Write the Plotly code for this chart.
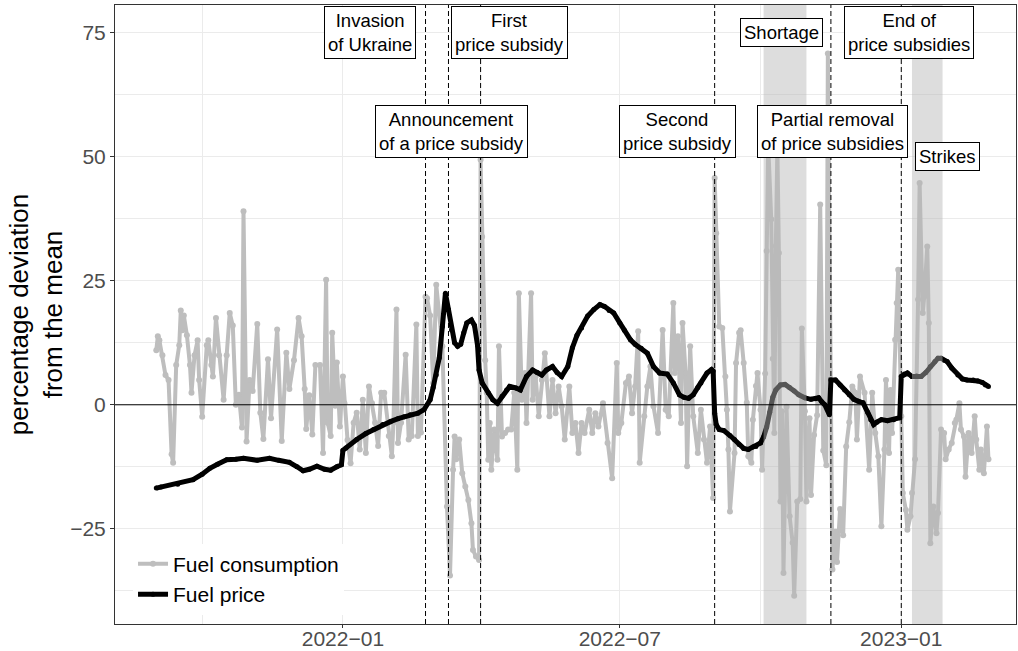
import pandas as pd
import plotly.graph_objects as go

# daily series; x = days since 2021-09-01
start = pd.Timestamp("2021-09-01")

cons_day = [0, 1, 2, 4, 6, 8, 10, 11, 13, 15, 16, 17, 18, 20, 22, 23, 25, 27, 28, 30,
            33, 34, 36, 37, 39, 41, 44, 46, 48, 50, 52, 54, 56, 57, 59, 61, 63, 66, 68, 70,
            73, 75, 79, 82, 85, 87, 90, 93, 95, 97, 98, 100, 102, 104, 107, 109, 111, 112, 114, 115,
            117, 118, 120, 122, 123, 125, 127, 129, 131, 133, 135, 137, 139, 141, 143, 145, 147, 149, 152, 154,
            155, 157, 158, 160, 163, 165, 167, 170, 171, 173, 176, 177, 179, 181, 183, 187, 190, 192, 194, 195,
            196, 198, 200, 202, 204, 206, 207, 209, 211, 212, 213, 215, 216, 217, 218, 219, 221, 223, 224, 226,
            228, 230, 232, 234, 236, 237, 239, 241, 242, 245, 246, 248, 250, 252, 254, 257, 259, 261, 263, 265,
            267, 270, 272, 274, 276, 278, 280, 283, 285, 287, 289, 292, 295, 298, 301, 302, 304, 307, 309, 311,
            313, 315, 316, 319, 321, 323, 325, 328, 331, 333, 335, 338, 339, 341, 343, 344, 346, 347, 349, 351,
            354, 356, 358, 360, 362, 364, 365, 366, 368, 370, 372, 373, 374, 375, 378, 379, 381, 382, 384, 386,
            387, 389, 390, 392, 393, 395, 396, 398, 399, 400, 402, 403, 404, 405, 406, 407, 408, 409, 410, 412,
            414, 416, 417, 419, 421, 422, 424, 425, 427, 428, 430, 432, 434, 436, 438, 439, 442, 444, 445, 447,
            449, 451, 453, 455, 457, 458, 460, 463, 466, 468, 470, 472, 474, 476, 477, 479, 480, 481, 483, 484,
            485, 487, 488, 490, 491, 493, 494, 496, 498, 499, 501, 502, 504, 505, 506, 508, 510, 511, 513, 515,
            516, 518, 520, 522, 523, 525, 526, 528, 529, 531, 533, 535, 536, 538, 539, 540, 541, 543, 544]
cons_val = [11, 13.8, 13, 10, 6, 5, -10, -11.7, 8, 12, 19, 15, 18, 14, 8, 2.4, 10, 13, 5, -2.4,
            12, 13, 8, 5.7, 17.5, 10, 1, 10, 18.5, 16, 0, 2, -4.6, 39, -7.4, 5, 2.8, 16.3, -1.6, -6.9,
            9.2, -2.7, 15.2, -7.3, 10.5, 3.2, 9, 17.5, 13.8, 3.2, -4.9, 1.9, -6, 8, 8, -9.7, 25.2, -3.6, -6.3, 14.5,
            -0.2, 8.5, -4.4, 5.7, 0.3, -7.1, -11.8, -3.6, -1.6, -9, 1, -9.7, 3.7, 0.3, -3.6, -8.3, 2.4, 2.4, -6.3, -10.4,
            -3.6, 19.2, -7.7, -3.6, 10.1, -7, -6.3, 16.2, -6.3, -5.6, 21.8, 21.5, 18, 4.4, 24.2, 11.8, -20.5, -34.4, -13.1, -6.4,
            -11, -7, -13.8, -16.5, -19.2, -23.9, -29.3, -30.6, -31.3, 49.4, 33.9, 9, 2.4, -11.1, -3.7, -13.1, -5, -11.1, 11.8, -6.4,
            -5.7, -5, -5, 2.4, -13.1, 22.5, 1, 6.4, -3.7, 22.5, 1, 5.7, -2.3, 5, 10.4, -2.3, 5, -1.7, 3.7, -0.3,
            -7, 3.7, -5.7, -3.7, -9.7, -3.7, -5.7, -1, -5.7, -1.7, -4.4, 0.3, -7.7, -14.8, 8.4, -5.7, -3.7, 4.4, 5.7, -1.7,
            3.7, 14.8, -11.7, -2.3, 3.7, 7.7, -0.3, -5.7, 15.1, -1, -2.3, 20.5, 6.4, 13.8, -3.7, 16.5, 6.4, -12.4, 11.8, -2.3,
            -9.7, -1, -7, -11.7, -4.4, -18.8, 45.7, 34.6, 15.8, 15.5, 5.7, -1, -9, -21.5, -9.7, 8.4, 14.5, 15, 8.4, 0.4,
            -10.4, -11.7, -3, 3.8, 6.4, -1, -13.1, 6.3, 31, 52.6, 37.4, 9.3, -5.7, 32, 52, 30.6, -19.5, -1.3, -33.9, -0.4,
            -22.5, -27.8, -38.5, -19.5, -19, 15.4, -1.3, -19.5, -2.7, -18.2, -6.1, -2.1, 40.4, -9.2, -12.2, 70.8, -33.2, -25.6, -31.7, -21,
            -26.3, -8.4, -3.5, 3.7, 2.4, -7, 5.7, 2.4, -13.1, 2.4, -5.7, -10.4, -24.5, -9, 5, -9.7, 3, -5.7, 13.1, 20.5,
            27.2, -2.3, -17.8, -21.2, -25.2, -22.5, -17.8, -11, 21.2, 44.7, 18.5, 21.8, 31.9, 16.5, -27.9, -20.5, -25.9, -21.8, -5, -5.7,
            -11, -9, -7.7, -3.7, -3, 0.3, -5, -6.4, -14.5, -5.7, -9.7, -2.3, -7, -13.1, -9, -13.1, -13.8, -4.4, -11]

price_day = [0, 3, 14, 24, 30, 35, 40, 46, 52, 57, 66, 74, 80, 87, 92, 96, 100, 105, 110, 114,
             118, 121, 122, 124, 131, 137, 142, 148, 153, 158, 162, 166, 171, 175, 179, 181, 183, 185, 187, 189,
             191, 193, 195, 197, 199, 201, 203, 206, 208, 210, 211, 213, 217, 220, 223, 226, 229, 231, 235, 238,
             242, 246, 249, 252, 255, 259, 262, 265, 269, 272, 275, 278, 282, 286, 290, 293, 296, 299, 303, 306,
             310, 313, 317, 321, 325, 329, 334, 338, 342, 345, 348, 351, 354, 356, 360, 363, 364, 365, 366, 368,
             371, 375, 378, 381, 384, 387, 390, 392, 395, 397, 399, 401, 403, 405, 408, 411, 414, 417, 420, 424,
             428, 431, 433, 435, 437, 440, 441, 444, 447, 450, 453, 456, 459, 462, 465, 467, 469, 471, 474, 478,
             482, 486, 487, 489, 491, 494, 497, 500, 503, 506, 509, 511, 513, 515, 517, 520, 524, 527, 530, 534,
             537, 540, 542, 544]
price_val = [-16.8, -16.6, -16, -15.1, -14, -12.8, -12, -11.1, -11, -10.8, -11.2, -10.8, -11.2, -11.6, -12.5, -13.3, -13, -12.4, -13, -13.2,
             -12.5, -12.1, -9.2, -8.7, -7, -5.8, -5, -4, -3.4, -2.8, -2.4, -2, -1.7, -1, 1, 3.5, 6, 9.5, 15.8, 22.5,
             19.2, 15.1, 12.5, 11.8, 12.2, 14.5, 16.5, 17.1, 16, 12, 7, 4.4, 2.4, 1, 0.3, 1.7, 3, 3.7, 3.4, 3,
             5.7, 7, 6.5, 6, 7, 7.7, 6.5, 5.7, 7.7, 11.5, 14, 15.5, 17.9, 19.2, 20.2, 19.8, 19, 18.5, 16.5, 15,
             13.1, 12.2, 11.4, 10.4, 7.7, 6.4, 6.2, 4.4, 2, 1.5, 1.3, 2, 3.5, 4.4, 6.4, 7.1, 6.8, -1.7, -4, -5,
             -5.2, -6.2, -7, -8, -8.8, -9, -8.5, -8.4, -7.7, -6.5, -4.5, -1.5, 1.5, 3, 4, 4.1, 3.5, 2.8, 2, 1.4,
             1.1, 1.2, 1.4, 0.6, 0, -2, 5, 5, 4, 3, 2, 1.1, 0.7, 0.4, -1.5, -3, -4, -3.5, -3, -3.2,
             -3, -2.6, 5.7, 6.2, 6.4, 5.7, 5.8, 5.7, 6.5, 7.7, 8.7, 9.4, 9.4, 9, 8.7, 7.4, 6, 5.2, 5, 5,
             4.8, 4.5, 4, 3.7]

event_dates = ["2022-02-24", "2022-03-11", "2022-04-01", "2022-09-01", "2022-11-16", "2023-01-01"]
shade_start = ["2022-10-03", "2023-01-08"]
shade_end = ["2022-10-31", "2023-01-28"]

label_text = ["Invasion<br>of Ukraine", "Announcement<br>of a price subsidy", "First<br>price subsidy",
              "Second<br>price subsidy", "Shortage", "Partial removal<br>of price subsidies",
              "End of<br>price subsidies", "Strikes"]
label_date = ["2022-01-19", "2022-03-13", "2022-04-20", "2022-08-08", "2022-10-15", "2022-11-17",
              "2023-01-06", "2023-01-31"]
label_y = [75, 55, 75, 55, 75, 55, 75, 50]

x_ticks = ["2022-01-01", "2022-07-01", "2023-01-01"]
x_ticktext = ["2022\u221201", "2022\u221207", "2023\u221201"]
x_minor = ["2021-10-01", "2022-04-01", "2022-10-01"]
y_ticks = [-25, 0, 25, 50, 75]
y_minor = [-37.5, -12.5, 12.5, 37.5, 62.5]

cons_x = start + pd.to_timedelta(cons_day, unit="D")
price_x = start + pd.to_timedelta(price_day, unit="D")

FONT = "Liberation Sans, Arial, sans-serif"

fig = go.Figure()
fig.add_trace(go.Scatter(x=cons_x, y=cons_val, mode="lines+markers", name="Fuel consumption",
                         line=dict(color="#BEBEBE", width=4), marker=dict(color="#BEBEBE", size=6)))
fig.add_trace(go.Scatter(x=price_x, y=price_val, mode="lines+markers", name="Fuel price",
                         line=dict(color="black", width=5), marker=dict(color="black", size=5)))

for s, e in zip(shade_start, shade_end):
    fig.add_shape(type="rect", xref="x", yref="paper", x0=s, x1=e, y0=0, y1=1,
                  fillcolor="rgb(182,182,182)", opacity=0.47, line_width=0, layer="above")

fig.add_hline(y=0, line=dict(color="black", width=1), layer="above")

for d in event_dates:
    fig.add_shape(type="line", xref="x", yref="paper", x0=d, x1=d, y0=0, y1=1,
                  line=dict(color="black", width=1, dash="5px,3px"), layer="above")

for t, d, y in zip(label_text, label_date, label_y):
    fig.add_annotation(x=d, y=y, text=t, showarrow=False, xanchor="center", yanchor="middle",
                       align="center", bgcolor="white", bordercolor="black", borderwidth=1,
                       borderpad=3, font=dict(family=FONT, size=18.5, color="black"))

fig.update_layout(
    width=1018, height=651,
    margin=dict(l=115, r=2, t=5, b=27, autoexpand=False),
    paper_bgcolor="white", plot_bgcolor="white",
    font=dict(family=FONT, color="black"),
    showlegend=True,
    legend=dict(x=0.02, y=0.015, xanchor="left", yanchor="bottom", bgcolor="white",
                font=dict(family=FONT, size=21, color="black"), tracegroupgap=0, itemwidth=30),
)
fig.update_xaxes(
    type="date", range=["2021-08-05", "2023-03-17"], automargin=False,
    tickmode="array", tickvals=x_ticks, ticktext=x_ticktext,
    tickfont=dict(family=FONT, size=21, color="#4D4D4D"),
    ticks="outside", ticklen=3, tickcolor="#333333", ticklabelstandoff=-7,
    showgrid=True, gridcolor="#EBEBEB", gridwidth=1.1,
    minor=dict(tickmode="array", tickvals=x_minor, showgrid=True, gridcolor="#EBEBEB", gridwidth=0.6, ticks=""),
    showline=True, mirror=True, linecolor="#333333", linewidth=1, zeroline=False,
)
fig.update_yaxes(
    range=[-44.2, 80.6], automargin=False,
    tickmode="array", tickvals=y_ticks,
    tickfont=dict(family=FONT, size=21, color="#4D4D4D"),
    ticks="outside", ticklen=4, tickcolor="#333333",
    showgrid=True, gridcolor="#EBEBEB", gridwidth=1.1,
    minor=dict(tickmode="array", tickvals=y_minor, showgrid=True, gridcolor="#EBEBEB", gridwidth=0.6, ticks=""),
    showline=True, mirror=True, linecolor="#333333", linewidth=1, zeroline=False,
    title=dict(text="percentage deviation<br>from the mean", font=dict(family=FONT, size=26, color="black"),
               standoff=0),
)

# page has a default 8px body margin; drop it so the figure sits at the window corner
fig.write_html("out.html", config={"displayModeBar": False},
               post_script="document.body.style.margin='0';")
